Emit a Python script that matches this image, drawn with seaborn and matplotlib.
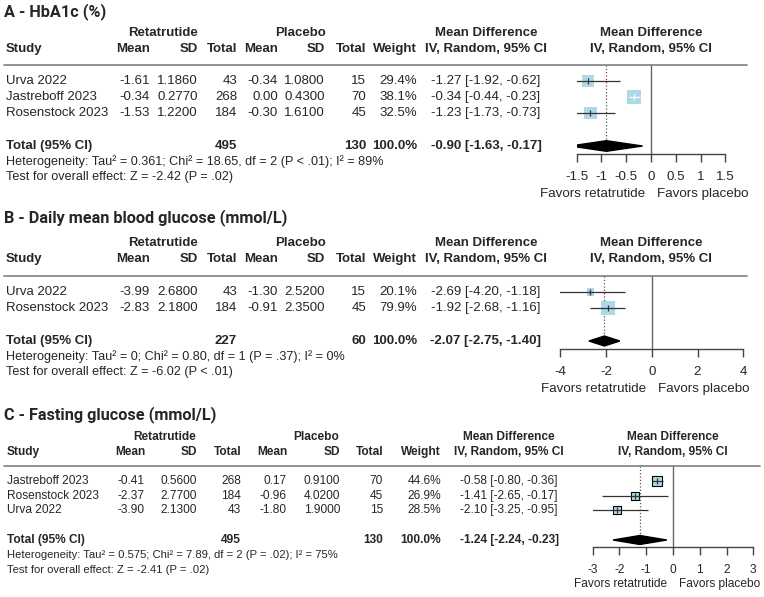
import numpy as np
import matplotlib
matplotlib.use("Agg")
from matplotlib import pyplot as plt
from matplotlib.lines import Line2D
import seaborn as sns

sns.set_style("white")
plt.rcParams['font.family'] = ['Liberation Sans', 'DejaVu Sans']

W, H = 764, 597

# ---- data: A - HbA1c
A_studies = ["Urva 2022", "Jastreboff 2023", "Rosenstock 2023"]
A_ret_mean = [-1.61, -0.34, -1.53]
A_ret_sd = [1.1860, 0.2770, 1.2200]
A_ret_n = [43, 268, 184]
A_pla_mean = [-0.34, 0.00, -0.30]
A_pla_sd = [1.0800, 0.4300, 1.6100]
A_pla_n = [15, 70, 45]
A_weight = [29.4, 38.1, 32.5]
A_md = [-1.27, -0.34, -1.23]
A_lo = [-1.92, -0.44, -1.73]
A_hi = [-0.62, -0.23, -0.73]
A_total = [-0.90, -1.63, -0.17]
A_n_total = [495, 130]
A_ticks = [-1.5, -1, -0.5, 0, 0.5, 1, 1.5]
A_het = "Heterogeneity: Tau² = 0.361; Chi² = 18.65, df = 2 (P < .01); I² = 89%"
A_test = "Test for overall effect: Z = -2.42 (P = .02)"

# ---- data: B - daily mean blood glucose
B_studies = ["Urva 2022", "Rosenstock 2023"]
B_ret_mean = [-3.99, -2.83]
B_ret_sd = [2.6800, 2.1800]
B_ret_n = [43, 184]
B_pla_mean = [-1.30, -0.91]
B_pla_sd = [2.5200, 2.3500]
B_pla_n = [15, 45]
B_weight = [20.1, 79.9]
B_md = [-2.69, -1.92]
B_lo = [-4.20, -2.68]
B_hi = [-1.18, -1.16]
B_total = [-2.07, -2.75, -1.40]
B_n_total = [227, 60]
B_ticks = [-4, -2, 0, 2, 4]
B_het = "Heterogeneity: Tau² = 0; Chi² = 0.80, df = 1 (P = .37); I² = 0%"
B_test = "Test for overall effect: Z = -6.02 (P < .01)"

# ---- data: C - fasting glucose
C_studies = ["Jastreboff 2023", "Rosenstock 2023", "Urva 2022"]
C_ret_mean = [-0.41, -2.37, -3.90]
C_ret_sd = [0.5600, 2.7700, 2.1300]
C_ret_n = [268, 184, 43]
C_pla_mean = [0.17, -0.96, -1.80]
C_pla_sd = [0.9100, 4.0200, 1.9000]
C_pla_n = [70, 45, 15]
C_weight = [44.6, 26.9, 28.5]
C_md = [-0.58, -1.41, -2.10]
C_lo = [-0.80, -2.65, -3.25]
C_hi = [-0.36, -0.17, -0.95]
C_total = [-1.24, -2.24, -0.23]
C_n_total = [495, 130]
C_ticks = [-3, -2, -1, 0, 1, 2, 3]
C_het = "Heterogeneity: Tau² = 0.575; Chi² = 7.89, df = 2 (P = .02); I² = 75%"
C_test = "Test for overall effect: Z = -2.41 (P = .02)"

fig = plt.figure(figsize=(W / 100, H / 100), dpi=100)


def txt(x, y, s, ha="left", size=9.5, bold=False, **kw):
    fig.text(x / W, 1 - y / H, s, ha=ha, va="center", fontsize=size,
             fontweight="bold" if bold else "normal", **kw)


def fmt_tick(v):
    return ("%g" % v)


def panel(title, studies, rm, rsd, rn, pm, psd, pn, wt, md, lo, hi, total,
          ntot, ticks, het, test, L):
    fs = L["fs"]
    txt(4, L["title_y"], title, size=L["tfs"], bold=True, family=["Roboto", "DejaVu Sans"])
    txt(L["ret_c"], L["grp_y"], "Retatrutide", ha="center", size=fs, bold=True)
    txt(L["pla_c"], L["grp_y"], "Placebo", ha="center", size=fs, bold=True)
    txt(L["ci_c"], L["grp_y"], "Mean Difference", ha="center", size=fs, bold=True)
    txt(L["plot_c"], L["grp_y"], "Mean Difference", ha="center", size=fs, bold=True)
    cols = L["cols"]
    txt(L["study_x"], L["head_y"], "Study", size=fs, bold=True)
    for x, s in zip(cols, ["Mean", "SD", "Total", "Mean", "SD", "Total", "Weight"]):
        txt(x, L["head_y"], s, ha="right", size=fs, bold=True)
    txt(L["ci_c"], L["head_y"], "IV, Random, 95% CI", ha="center", size=fs, bold=True)
    txt(L["plot_c"], L["head_y"], "IV, Random, 95% CI", ha="center", size=fs, bold=True)
    fig.add_artist(Line2D([4 / W, L["line_x1"] / W], [1 - L["line_y"] / H] * 2,
                          color="#7f7f7f", lw=1.2))
    for i, st in enumerate(studies):
        y = L["rows"][i]
        txt(L["study_x"], y, st, size=fs)
        vals = ["%.2f" % rm[i], "%.4f" % rsd[i], str(rn[i]),
                "%.2f" % pm[i], "%.4f" % psd[i], str(pn[i]), "%.1f%%" % wt[i]]
        for x, s in zip(cols, vals):
            txt(x, y, s, ha="right", size=fs)
        txt(L["ci_c"], y, "%.2f [%.2f, %.2f]" % (md[i], lo[i], hi[i]), ha="center", size=fs)
    ty = L["total_y"]
    txt(L["study_x"], ty, "Total (95% CI)", size=fs, bold=True)
    txt(cols[2], ty, str(ntot[0]), ha="right", size=fs, bold=True)
    txt(cols[5], ty, str(ntot[1]), ha="right", size=fs, bold=True)
    txt(cols[6], ty, "100.0%", ha="right", size=fs, bold=True)
    txt(L["ci_c"], ty, "%.2f [%.2f, %.2f]" % tuple(total), ha="center", size=fs, bold=True)
    txt(L["study_x"], L["het_y"], het, size=L["hfs"])
    txt(L["study_x"], L["test_y"], test, size=L["hfs"])

    # forest axes, y in pixel units
    x0, x1 = L["ax_x"]
    ay, ly = L["axis_y"], L["line_y"]
    ax = fig.add_axes([x0 / W, 1 - ay / H, (x1 - x0) / W, (ay - ly) / H])
    ax.set_xlim(ticks[0], ticks[-1])
    ax.set_ylim(ay, ly)
    ax.patch.set_alpha(0)
    for s in ["top", "right", "left"]:
        ax.spines[s].set_visible(False)
    ax.spines["bottom"].set_color("#444444")
    ax.spines["bottom"].set_linewidth(1)
    ax.set_yticks([])
    ax.set_xticks(ticks)
    ax.set_xticklabels([fmt_tick(t) for t in ticks])
    ax.tick_params(axis="x", direction="out", length=6, width=1, color="#444444",
                   labelsize=L["tickfs"], pad=6, bottom=True)
    ax.axvline(0, color="#666666", lw=1, zorder=1)
    ax.plot([total[0], total[0]], [ly, ty], ls=":", color="#555555", lw=0.9, zorder=1)

    smax = L["smax"]
    sns.scatterplot(x=md, y=L["rows"], size=wt, sizes=(0, smax), size_norm=(0, max(wt)),
                    marker="s", color="lightblue", edgecolor=L["edge"],
                    linewidth=L["elw"], legend=False, ax=ax, zorder=2)
    upx = (x1 - x0) / (ticks[-1] - ticks[0])
    for i in range(len(studies)):
        side = np.sqrt(smax * wt[i] / max(wt)) / 0.72
        c = "white" if (hi[i] - lo[i]) * upx < side else "#333333"
        ax.hlines(L["rows"][i], lo[i], hi[i], color=c, lw=0.9, zorder=3)
        ax.plot([md[i]], [L["rows"][i]], marker="|", ms=4, mew=0.9, color=c, zorder=4)
    h = L["dh"]
    ax.fill([total[1], total[0], total[2], total[0]], [ty, ty - h, ty, ty + h],
            color="black", zorder=3)
    ax.set_xlabel("")
    ax.set_ylabel("")
    zx = x0 + (0 - ticks[0]) * upx
    txt(zx - 6, L["fav_y"], "Favors retatrutide", ha="right", size=L["tickfs"])
    txt(zx + 6, L["fav_y"], "Favors placebo", ha="left", size=L["tickfs"])


LA = dict(fs=9.5, tfs=11.7, hfs=9.1, tickfs=9.6, title_y=12, grp_y=33, head_y=49,
          line_y=65, line_x1=747, rows=[81, 97, 113], total_y=146, het_y=162, test_y=177,
          study_x=6, cols=[150, 198, 237, 278, 325, 366, 417], ci_c=486, plot_c=651,
          ret_c=163, pla_c=300, ax_x=(576.7, 725.3), axis_y=154, fav_y=194,
          smax=102, edge="none", elw=0, dh=5.3)
LB = dict(LA, title_y=218, grp_y=243, head_y=259, line_y=275.5, rows=[292, 308],
          total_y=341, het_y=357, test_y=372, ax_x=(560.3, 743.3), axis_y=349,
          fav_y=389, plot_c=651, dh=5)
LC = dict(fs=8.6, tfs=11.7, hfs=8.1, tickfs=8.6, title_y=415, grp_y=437, head_y=452,
          line_y=466, line_x1=760, rows=[481, 496, 510], total_y=540, het_y=555,
          test_y=570, study_x=7, cols=[145, 197, 241, 287, 340, 383, 441], ci_c=509,
          plot_c=673, ret_c=165, pla_c=316, ax_x=(592.7, 753.3), axis_y=547, fav_y=584,
          smax=52, edge="black", elw=0.8, dh=4.5)

panel("A - HbA1c (%)", A_studies, A_ret_mean, A_ret_sd, A_ret_n, A_pla_mean, A_pla_sd,
      A_pla_n, A_weight, A_md, A_lo, A_hi, A_total, A_n_total, A_ticks, A_het, A_test, LA)
panel("B - Daily mean blood glucose (mmol/L)", B_studies, B_ret_mean, B_ret_sd, B_ret_n,
      B_pla_mean, B_pla_sd, B_pla_n, B_weight, B_md, B_lo, B_hi, B_total, B_n_total,
      B_ticks, B_het, B_test, LB)
panel("C - Fasting glucose (mmol/L)", C_studies, C_ret_mean, C_ret_sd, C_ret_n,
      C_pla_mean, C_pla_sd, C_pla_n, C_weight, C_md, C_lo, C_hi, C_total, C_n_total,
      C_ticks, C_het, C_test, LC)

fig.savefig("out.png", dpi=100)
